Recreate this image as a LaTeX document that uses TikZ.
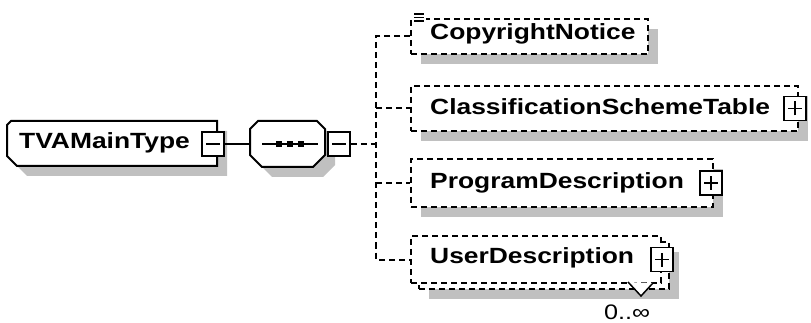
\documentclass[tikz,border=0pt]{standalone}
\usepackage{fontspec}
\newfontfamily\xsdfont[FakeStretch=1.2]{Liberation Sans}
\definecolor{shade}{RGB}{192,192,192}

\tikzset{
    shadowed/.style = {preaction = {fill = shade, draw = none,
        transform canvas = {xshift = 10pt, yshift = -10pt}}},
    cplx/.style = {draw, line width = 2pt, fill = white, shadowed},
    optbox/.style = {draw, line width = 2pt, fill = white, dash pattern = on 6pt off 4pt,
        inner sep = 0pt, anchor = north west},
    elem/.style = {font = \xsdfont\bfseries\fontsize{22}{26}\selectfont, inner sep = 0pt, anchor = west},
    btn/.style = {draw, fill = white, line width = 1.8pt, inner sep = 0pt,
        minimum width = 22pt, minimum height = 24pt},
    minus/.style = {btn, path picture = {
        \draw[line width = 1.8pt] ([xshift = -7pt]path picture bounding box.center)
            -- ([xshift = 7pt]path picture bounding box.center);}},
    plus/.style = {btn, path picture = {
        \draw[line width = 1.8pt] ([xshift = -7pt]path picture bounding box.center)
            -- ([xshift = 7pt]path picture bounding box.center);
        \draw[line width = 1.8pt] ([yshift = -7pt]path picture bounding box.center)
            -- ([yshift = 7pt]path picture bounding box.center);}},
    link/.style = {line width = 2pt},
    optlink/.style = {line width = 2pt, dash pattern = on 6pt off 4pt}
}

\begin{document}
\begin{tikzpicture}[x = 1pt, y = -1pt]
    \useasboundingbox (0,0) rectangle (811,323);

    \path[cplx] (7,125) -- (11,121) -- (217,121) -- (217,166) -- (17,166) -- (7,156) -- cycle;
    \node[elem] (main) at (19,143) {TVAMainType};
    \node[minus] (mainbtn) at (213,144) {};

    \path[cplx] (258,121) -- (317,121) -- (325,129) -- (325,155) -- (313,167)
        -- (262,167) -- (250,155) -- (250,129) -- cycle;
    \coordinate (seqin) at (250,144);
    \draw[link] (262,144) -- (318,144);
    \foreach \x in {279,290,301}
        \fill (\x-3,141) rectangle (\x+3,147);
    \node[minus] (seqbtn) at (339,144) {};
    \coordinate (fork) at (376,144);

    \node[optbox, shadowed, minimum width = 237pt, minimum height = 35pt] (copy) at (410,18) {};
    \node[elem] (copytxt) at (430,34) {CopyrightNotice};
    \fill[white] (412,11) rectangle (426,24);
    \foreach \y in {14,17.5,21}
        \draw[line width = 1.2pt] (414,\y) -- (424,\y);

    \node[optbox, shadowed, minimum width = 387pt, minimum height = 45pt] (cst) at (410,85) {};
    \node[elem] (csttxt) at (430,107) {ClassificationSchemeTable};
    \node[plus] (cstbtn) at ([xshift = -4pt]cst.east) {};

    \node[optbox, shadowed, minimum width = 302pt, minimum height = 48pt] (prog) at (410,158) {};
    \node[elem] (progtxt) at (430,183) {ProgramDescription};
    \node[plus] (progbtn) at ([xshift = -3pt]prog.east) {};

    \node[optbox, shadowed, minimum width = 250pt, minimum height = 47pt] (userback) at (418,241) {};
    \node[optbox, minimum width = 250pt, minimum height = 47pt] (user) at (410,235) {};
    \node[elem] (usertxt) at (430,258) {UserDescription};
    \node[plus] (userbtn) at (user.east) {};
    \draw[line width = 1.5pt, fill = white] (628,282) -- (641,296) -- (653,283);
    \node[font = \xsdfont\fontsize{21}{24}\selectfont, inner sep = 0pt] (occurs) at (627,312) {0..∞};

    \draw[link] (mainbtn) -- (seqin);
    \draw[optlink] (seqbtn) -- (fork);
    \draw[optlink] (copy.west) -| (fork |- user.west) -- (user.west);
    \draw[optlink] (fork |- cst.west) -- (cst.west);
    \draw[optlink] (fork |- prog.west) -- (prog.west);
\end{tikzpicture}
\end{document}
